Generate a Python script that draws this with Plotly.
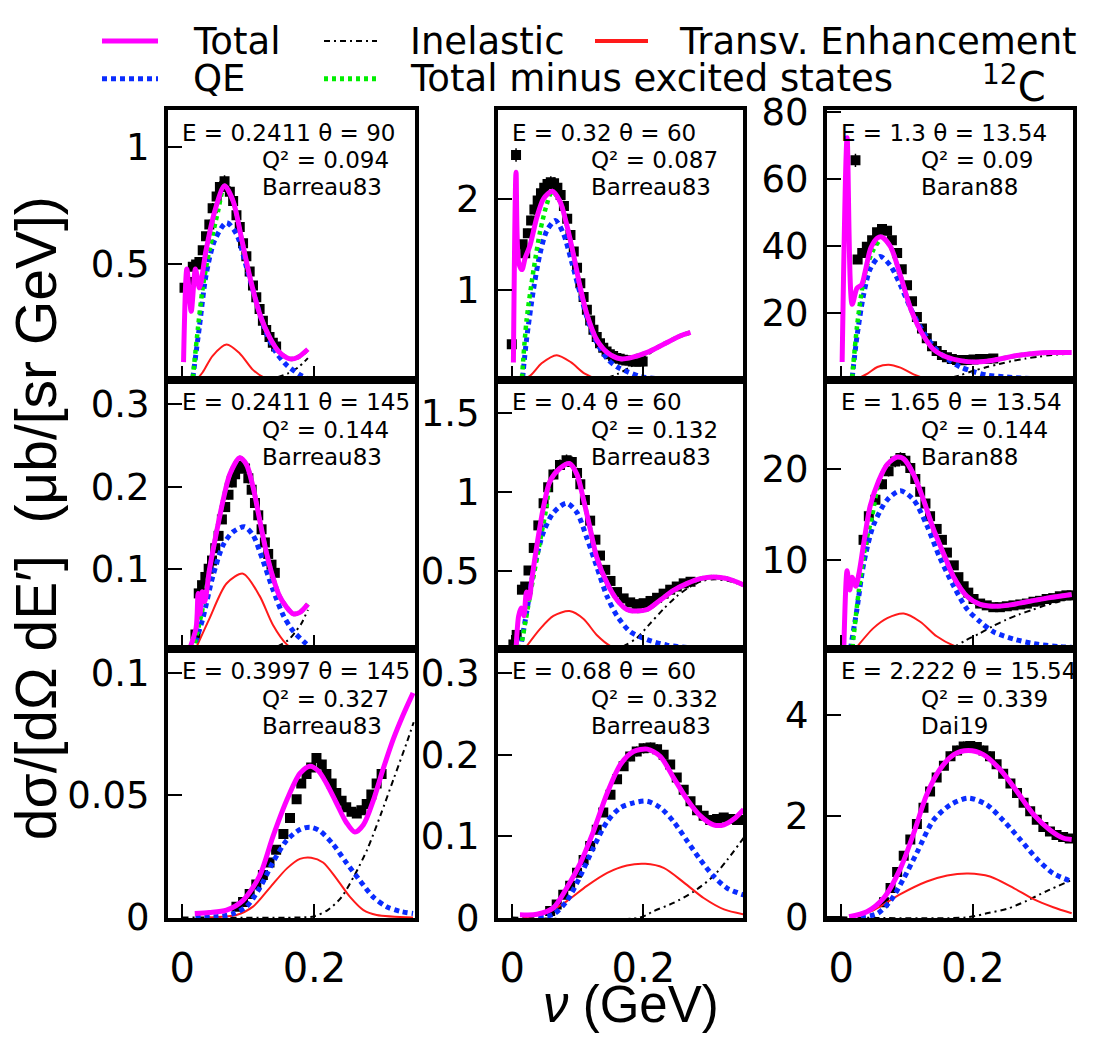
import plotly.graph_objects as go
from plotly.subplots import make_subplots

W, H = 1105, 1050

# ---------------- panel kinematics (row-major) ----------------
BEAM_E = ["0.2411", "0.32", "1.3", "0.2411", "0.4", "1.65", "0.3997", "0.68", "2.222"]
THETA = ["90", "60", "13.54", "145", "60", "13.54", "145", "60", "15.54"]
Q2 = ["0.094", "0.087", "0.09", "0.144", "0.132", "0.144", "0.327", "0.332", "0.339"]
DATASET = ["Barreau83", "Barreau83", "Baran88", "Barreau83", "Barreau83", "Baran88",
           "Barreau83", "Barreau83", "Dai19"]

X_RANGE = [-0.0215, 0.352]
X_TICKS = [0, 0.2]
Y_RANGES = [[0.008, 1.157], [0.01, 2.97], [0.2, 80.6],
            [0.0023, 0.330], [0.011, 1.708], [0.2, 29.8],
            [-0.0004, 0.110], [-0.001, 0.330], [-0.02, 5.31]]
Y_TICKS = [[0.5, 1], [1, 2], [20, 40, 60, 80],
           [0.1, 0.2, 0.3], [0.5, 1, 1.5], [10, 20],
           [0, 0.05, 0.1], [0, 0.1, 0.2, 0.3], [0, 2, 4]]

# ---------------- panel 1: E=0.2411, theta=90 ----------------
DATA_1 = [(0.0035, 0.40), (0.011, 0.425), (0.016, 0.49), (0.021, 0.50), (0.026, 0.51),
          (0.031, 0.56), (0.036, 0.62), (0.041, 0.67), (0.046, 0.74), (0.052, 0.79),
          (0.057, 0.83), (0.064, 0.855), (0.072, 0.81), (0.077, 0.77), (0.082, 0.71),
          (0.087, 0.66), (0.092, 0.59), (0.097, 0.535), (0.102, 0.47), (0.107, 0.41),
          (0.112, 0.36), (0.117, 0.31), (0.122, 0.26), (0.127, 0.22), (0.132, 0.19),
          (0.137, 0.166), (0.142, 0.15)]
TOTAL_1 = [(0.002, 0.083), (0.007, 0.48), (0.0136, 0.30), (0.020, 0.48), (0.026, 0.40),
           (0.036, 0.56), (0.049, 0.725), (0.064, 0.835), (0.077, 0.77), (0.089, 0.62),
           (0.102, 0.45), (0.117, 0.29), (0.132, 0.19), (0.147, 0.125), (0.163, 0.097),
           (0.175, 0.104), (0.190, 0.138)]
QE_1 = [(0.016, 0.015), (0.026, 0.234), (0.036, 0.454), (0.049, 0.602), (0.067, 0.678),
        (0.082, 0.63), (0.097, 0.49), (0.112, 0.34), (0.127, 0.208), (0.142, 0.124),
        (0.158, 0.07), (0.178, 0.029), (0.190, 0.012)]
NOEXC_1 = [(0.016, 0.015), (0.024, 0.234), (0.031, 0.40), (0.041, 0.56), (0.054, 0.725),
           (0.064, 0.835), (0.077, 0.77), (0.089, 0.62), (0.102, 0.45), (0.117, 0.29),
           (0.132, 0.19), (0.147, 0.125), (0.163, 0.097), (0.175, 0.104), (0.190, 0.138)]
TE_1 = [(0.019, 0.0), (0.031, 0.04), (0.046, 0.11), (0.067, 0.158), (0.087, 0.12),
        (0.107, 0.05), (0.127, 0.012), (0.147, 0.0), (0.190, 0.0)]
INEL_1 = [(0.0, 0.0), (0.10, 0.0), (0.12, 0.004), (0.14, 0.015), (0.16, 0.035),
          (0.175, 0.06), (0.190, 0.10)]

# ---------------- panel 2: E=0.32, theta=60 ----------------
DATA_2 = [(-0.0005, 0.40), (0.006, 2.48), (0.016, 1.50), (0.020, 1.40), (0.024, 1.62),
          (0.029, 1.76), (0.034, 1.88), (0.039, 1.98), (0.044, 2.06), (0.049, 2.12),
          (0.054, 2.16), (0.059, 2.18), (0.064, 2.17), (0.069, 2.12), (0.074, 2.04),
          (0.079, 1.92), (0.084, 1.78), (0.089, 1.60), (0.094, 1.42), (0.099, 1.24),
          (0.104, 1.07), (0.109, 0.92), (0.114, 0.78), (0.119, 0.66), (0.124, 0.56),
          (0.129, 0.48), (0.134, 0.41), (0.139, 0.36), (0.144, 0.32), (0.149, 0.29),
          (0.154, 0.27), (0.159, 0.25), (0.164, 0.24), (0.169, 0.23), (0.174, 0.22),
          (0.179, 0.22), (0.184, 0.21), (0.189, 0.21), (0.194, 0.21), (0.199, 0.21)]
TOTAL_2 = [(0.002, 0.20), (0.006, 2.29), (0.010, 1.30), (0.015, 1.22), (0.020, 1.35),
           (0.027, 1.48), (0.038, 1.80), (0.048, 2.0), (0.061, 2.08), (0.073, 1.97),
           (0.083, 1.72), (0.094, 1.37), (0.104, 1.02), (0.114, 0.73), (0.129, 0.45),
           (0.145, 0.31), (0.165, 0.24), (0.180, 0.25), (0.206, 0.31), (0.231, 0.40),
           (0.256, 0.49), (0.272, 0.53)]
QE_2 = [(0.016, 0.03), (0.022, 0.45), (0.033, 1.02), (0.043, 1.41), (0.053, 1.65),
        (0.066, 1.76), (0.078, 1.62), (0.091, 1.30), (0.104, 0.95), (0.117, 0.63),
        (0.129, 0.42), (0.145, 0.24), (0.160, 0.15), (0.175, 0.10), (0.195, 0.046),
        (0.221, 0.02), (0.241, 0.01), (0.272, 0.004)]
NOEXC_2 = [(0.015, 0.03), (0.022, 0.66), (0.033, 1.23), (0.043, 1.65), (0.053, 1.94),
           (0.061, 2.08), (0.073, 1.97), (0.083, 1.72), (0.094, 1.37), (0.104, 1.02),
           (0.114, 0.73), (0.129, 0.45), (0.145, 0.31), (0.165, 0.24), (0.180, 0.25),
           (0.206, 0.31), (0.231, 0.40), (0.256, 0.49), (0.272, 0.53)]
TE_2 = [(0.017, 0.0), (0.030, 0.07), (0.045, 0.19), (0.068, 0.28), (0.090, 0.20),
        (0.110, 0.08), (0.130, 0.02), (0.150, 0.0), (0.272, 0.0)]
INEL_2 = [(0.0, 0.0), (0.12, 0.0), (0.14, 0.02), (0.16, 0.07), (0.18, 0.15), (0.20, 0.25),
          (0.22, 0.35), (0.24, 0.44), (0.26, 0.49), (0.272, 0.52)]

# ---------------- panel 3: E=1.3, theta=13.54 ----------------
DATA_3 = [(0.0217, 65.7), (0.025, 36.1), (0.032, 38.0), (0.039, 39.9), (0.047, 41.8),
          (0.0545, 44.2), (0.062, 45.2), (0.0697, 44.7), (0.077, 41.8), (0.085, 38.0),
          (0.092, 33.2), (0.100, 28.4), (0.1076, 23.6), (0.115, 18.9), (0.1227, 15.5),
          (0.130, 12.6), (0.138, 10.2), (0.145, 8.8), (0.153, 7.6), (0.1606, 6.9),
          (0.168, 6.4), (0.176, 6.1), (0.183, 6.0), (0.191, 6.1), (0.201, 6.2),
          (0.211, 6.4), (0.221, 6.4), (0.231, 6.5)]
TOTAL_3 = [(0.0015, 5.5), (0.009, 72.4), (0.0167, 22.7), (0.024, 27.5), (0.031, 28.5),
           (0.037, 33.0), (0.045, 39.5), (0.055, 42.5), (0.062, 42.8), (0.075, 39.9),
           (0.090, 31.3), (0.105, 21.7), (0.120, 15.0), (0.140, 9.3), (0.161, 6.9),
           (0.181, 5.9), (0.201, 5.5), (0.221, 5.7), (0.241, 6.4), (0.267, 7.4),
           (0.292, 8.0), (0.317, 8.3), (0.350, 8.3)]
QE_3 = [(0.0167, 0.7), (0.024, 13.1), (0.034, 25.5), (0.044, 33.2), (0.059, 37.0),
        (0.075, 34.2), (0.090, 28.4), (0.105, 21.7), (0.120, 16.0), (0.140, 10.2),
        (0.161, 6.4), (0.181, 4.0), (0.201, 2.6), (0.221, 1.6), (0.251, 1.0),
        (0.292, 0.5), (0.350, 0.3)]
NOEXC_3 = [(0.0167, 0.7), (0.024, 16.0), (0.032, 27.5), (0.039, 34.0), (0.049, 39.0),
           (0.057, 41.5), (0.062, 42.8), (0.075, 39.9), (0.090, 31.3), (0.105, 21.7),
           (0.120, 15.0), (0.140, 9.3), (0.161, 6.9), (0.181, 5.9), (0.201, 5.5),
           (0.221, 5.7), (0.241, 6.4), (0.267, 7.4), (0.292, 8.0), (0.317, 8.3),
           (0.350, 8.3)]
TE_3 = [(0.02, 0.0), (0.04, 2.0), (0.055, 4.0), (0.072, 4.7), (0.09, 3.8), (0.11, 1.8),
        (0.13, 0.5), (0.15, 0.0), (0.35, 0.0)]
INEL_3 = [(0.0, 0.0), (0.14, 0.0), (0.16, 0.5), (0.18, 1.5), (0.20, 2.8), (0.22, 3.9),
          (0.24, 4.9), (0.26, 5.8), (0.28, 6.5), (0.30, 7.1), (0.32, 7.6), (0.35, 8.0)]

# ---------------- panel 4: E=0.2411, theta=145 ----------------
DATA_4 = [(0.020, 0.02), (0.025, 0.07), (0.030, 0.08), (0.035, 0.09), (0.040, 0.10),
          (0.045, 0.11), (0.050, 0.125), (0.055, 0.14), (0.060, 0.16), (0.065, 0.175),
          (0.070, 0.19), (0.075, 0.205), (0.080, 0.215), (0.085, 0.222), (0.090, 0.225),
          (0.095, 0.222), (0.100, 0.21), (0.105, 0.196), (0.110, 0.18), (0.115, 0.165),
          (0.120, 0.148), (0.125, 0.132), (0.130, 0.118), (0.135, 0.105), (0.140, 0.095)]
TOTAL_4 = [(0.011, 0.002), (0.021, 0.028), (0.024, 0.07), (0.027, 0.045), (0.030, 0.072),
           (0.034, 0.06), (0.041, 0.098), (0.052, 0.145), (0.062, 0.184), (0.072, 0.215),
           (0.087, 0.235), (0.097, 0.227), (0.107, 0.20), (0.117, 0.16), (0.127, 0.121),
           (0.137, 0.09), (0.147, 0.067), (0.158, 0.053), (0.168, 0.045), (0.178, 0.047),
           (0.190, 0.057)]
QE_4 = [(0.016, 0.0), (0.031, 0.039), (0.046, 0.09), (0.062, 0.129), (0.077, 0.145),
        (0.094, 0.151), (0.107, 0.141), (0.122, 0.11), (0.137, 0.075), (0.153, 0.043),
        (0.168, 0.024), (0.183, 0.012), (0.190, 0.007)]
NOEXC_4 = [(0.016, 0.0), (0.025, 0.03), (0.035, 0.068), (0.041, 0.098), (0.052, 0.145),
           (0.062, 0.184), (0.072, 0.215), (0.087, 0.235), (0.097, 0.227), (0.107, 0.20),
           (0.117, 0.16), (0.127, 0.121), (0.137, 0.09), (0.147, 0.067), (0.158, 0.053),
           (0.168, 0.045), (0.178, 0.047), (0.190, 0.057)]
TE_4 = [(0.019, 0.0), (0.041, 0.039), (0.067, 0.082), (0.092, 0.094), (0.117, 0.067),
        (0.137, 0.032), (0.158, 0.008), (0.173, 0.0), (0.190, 0.0)]
INEL_4 = [(0.0, 0.0), (0.12, 0.0), (0.14, 0.004), (0.16, 0.013), (0.17, 0.022),
          (0.18, 0.033), (0.19, 0.05)]

# ---------------- panel 5: E=0.4, theta=60 ----------------
DATA_5 = [(0.002, 0.04), (0.007, 0.10), (0.015, 0.385), (0.020, 0.405), (0.025, 0.506),
          (0.033, 0.648), (0.040, 0.79), (0.048, 0.93), (0.055, 1.03), (0.063, 1.11),
          (0.073, 1.17), (0.083, 1.20), (0.091, 1.19), (0.099, 1.12), (0.104, 1.05),
          (0.111, 0.95), (0.119, 0.82), (0.127, 0.70), (0.134, 0.60), (0.142, 0.51),
          (0.150, 0.44), (0.160, 0.37), (0.170, 0.33), (0.180, 0.305), (0.190, 0.294),
          (0.2005, 0.30), (0.211, 0.314), (0.221, 0.334), (0.231, 0.36), (0.241, 0.385),
          (0.251, 0.405), (0.2616, 0.425), (0.272, 0.435)]
TOTAL_5 = [(0.006, 0.01), (0.010, 0.22), (0.014, 0.27), (0.018, 0.22), (0.022, 0.37),
           (0.026, 0.33), (0.030, 0.45), (0.038, 0.67), (0.048, 0.91), (0.058, 1.07),
           (0.073, 1.15), (0.0875, 1.18), (0.099, 1.11), (0.109, 0.95), (0.119, 0.77),
           (0.129, 0.59), (0.145, 0.425), (0.160, 0.32), (0.175, 0.26), (0.190, 0.25),
           (0.206, 0.26), (0.226, 0.32), (0.246, 0.38), (0.267, 0.425), (0.287, 0.455),
           (0.307, 0.465), (0.328, 0.455), (0.353, 0.415)]
QE_5 = [(0.012, 0.0), (0.022, 0.24), (0.033, 0.51), (0.048, 0.75), (0.063, 0.87),
        (0.083, 0.93), (0.099, 0.87), (0.114, 0.71), (0.129, 0.53), (0.145, 0.34),
        (0.160, 0.22), (0.180, 0.12), (0.206, 0.07), (0.236, 0.036), (0.267, 0.02),
        (0.297, 0.012), (0.353, 0.005)]
NOEXC_5 = [(0.013, 0.01), (0.027, 0.34), (0.043, 0.70), (0.053, 0.92), (0.058, 1.07),
           (0.073, 1.15), (0.0875, 1.18), (0.099, 1.11), (0.109, 0.95), (0.119, 0.77),
           (0.129, 0.59), (0.145, 0.425), (0.160, 0.32), (0.175, 0.26), (0.190, 0.25),
           (0.206, 0.26), (0.226, 0.32), (0.246, 0.38), (0.267, 0.425), (0.287, 0.455),
           (0.307, 0.465), (0.328, 0.455), (0.353, 0.415)]
TE_5 = [(0.017, 0.0), (0.043, 0.14), (0.063, 0.22), (0.0875, 0.25), (0.109, 0.20),
        (0.129, 0.10), (0.150, 0.03), (0.170, 0.0), (0.353, 0.0)]
INEL_5 = [(0.0, 0.0), (0.15, 0.0), (0.17, 0.03), (0.19, 0.08), (0.21, 0.17), (0.23, 0.26),
          (0.25, 0.34), (0.27, 0.40), (0.29, 0.44), (0.31, 0.45), (0.33, 0.44),
          (0.353, 0.41)]

# ---------------- panel 6: E=1.65, theta=13.54 ----------------
DATA_6 = [(0.034, 12.2), (0.042, 14.8), (0.052, 16.6), (0.062, 18.3), (0.072, 19.75),
          (0.082, 20.8), (0.090, 21.2), (0.0975, 20.9), (0.105, 20.1), (0.1126, 18.9),
          (0.120, 17.5), (0.128, 16.2), (0.135, 14.8), (0.145, 13.4), (0.153, 12.2),
          (0.1606, 10.8), (0.171, 9.4), (0.178, 8.1), (0.186, 7.1), (0.193, 6.4),
          (0.201, 5.7), (0.211, 5.2), (0.221, 5.0), (0.231, 4.8), (0.241, 4.8),
          (0.2515, 4.9), (0.2616, 5.0), (0.272, 5.1), (0.282, 5.2), (0.292, 5.4),
          (0.302, 5.5), (0.312, 5.7), (0.322, 5.8), (0.332, 6.0), (0.342, 6.1),
          (0.350, 6.1)]
TOTAL_6 = [(0.004, 0.2), (0.009, 8.8), (0.013, 6.7), (0.0167, 8.1), (0.022, 7.1),
           (0.027, 8.5), (0.034, 11.7), (0.044, 15.9), (0.057, 18.7), (0.070, 20.5),
           (0.085, 21.3), (0.095, 21.1), (0.110, 19.4), (0.125, 16.6), (0.140, 13.4),
           (0.156, 10.6), (0.171, 8.1), (0.191, 6.0), (0.211, 5.1), (0.231, 4.9),
           (0.252, 5.0), (0.282, 5.4), (0.312, 5.8), (0.350, 6.2)]
QE_6 = [(0.014, 0.2), (0.024, 4.6), (0.034, 9.5), (0.049, 13.8), (0.070, 16.6),
        (0.090, 17.6), (0.110, 16.6), (0.130, 13.8), (0.150, 10.2), (0.171, 7.1),
        (0.191, 4.6), (0.211, 3.2), (0.231, 2.1), (0.262, 1.3), (0.292, 0.8),
        (0.332, 0.46), (0.350, 0.4)]
NOEXC_6 = [(0.017, 0.3), (0.027, 6.7), (0.037, 11.7), (0.047, 14.8), (0.057, 18.5),
           (0.070, 20.5), (0.085, 21.3), (0.095, 21.1), (0.110, 19.4), (0.125, 16.6),
           (0.140, 13.4), (0.156, 10.6), (0.171, 8.1), (0.191, 6.0), (0.211, 5.1),
           (0.231, 4.9), (0.252, 5.0), (0.282, 5.4), (0.312, 5.8), (0.350, 6.2)]
TE_6 = [(0.019, 0.0), (0.049, 2.5), (0.070, 3.6), (0.095, 4.1), (0.120, 3.2),
        (0.145, 1.6), (0.171, 0.56), (0.196, 0.0), (0.350, 0.0)]
INEL_6 = [(0.0, 0.0), (0.15, 0.0), (0.17, 0.4), (0.19, 1.2), (0.21, 1.9), (0.23, 2.7),
          (0.25, 3.4), (0.27, 4.0), (0.29, 4.5), (0.31, 5.0), (0.33, 5.4), (0.35, 5.8)]

# ---------------- panel 7: E=0.3997, theta=145 ----------------
DATA_7 = [(0.082, 0.0044), (0.092, 0.0063), (0.102, 0.0096), (0.112, 0.0135),
          (0.122, 0.0174), (0.132, 0.0225), (0.142, 0.0277), (0.153, 0.0342),
          (0.163, 0.0407), (0.173, 0.0484), (0.180, 0.0549), (0.188, 0.0588),
          (0.195, 0.0614), (0.203, 0.0653), (0.211, 0.0627), (0.218, 0.0588),
          (0.226, 0.0549), (0.233, 0.051), (0.241, 0.0478), (0.248, 0.0452),
          (0.256, 0.0433), (0.264, 0.0426), (0.271, 0.0439), (0.279, 0.0465),
          (0.286, 0.0504), (0.294, 0.0549), (0.3015, 0.0588)]
TOTAL_7 = [(0.019, 0.0016), (0.041, 0.002), (0.067, 0.003), (0.092, 0.007), (0.117, 0.017),
           (0.137, 0.033), (0.158, 0.048), (0.178, 0.059), (0.193, 0.062), (0.206, 0.060),
           (0.218, 0.055), (0.233, 0.047), (0.248, 0.039), (0.261, 0.035), (0.274, 0.038),
           (0.289, 0.048), (0.304, 0.061), (0.319, 0.073), (0.334, 0.083), (0.349, 0.092)]
QE_7 = [(0.020, 0.0), (0.060, 0.0005), (0.077, 0.0015), (0.097, 0.0044), (0.117, 0.012),
        (0.137, 0.0225), (0.158, 0.0316), (0.178, 0.036), (0.193, 0.037), (0.208, 0.0355),
        (0.228, 0.030), (0.248, 0.0225), (0.269, 0.015), (0.289, 0.0083), (0.309, 0.0044),
        (0.329, 0.0025), (0.349, 0.0016)]
TE_7 = [(0.040, 0.0), (0.082, 0.001), (0.107, 0.0044), (0.132, 0.012), (0.158, 0.020),
        (0.178, 0.024), (0.195, 0.0245), (0.213, 0.0225), (0.233, 0.016), (0.254, 0.0083),
        (0.274, 0.003), (0.294, 0.001), (0.349, 0.0)]
INEL_7 = [(0.0, 0.0), (0.18, 0.0), (0.20, 0.0005), (0.22, 0.003), (0.24, 0.008),
          (0.26, 0.017), (0.28, 0.028), (0.30, 0.042), (0.32, 0.057), (0.34, 0.072),
          (0.35, 0.080)]

# ---------------- panel 8: E=0.68, theta=60 ----------------
DATA_8 = [(0.058, 0.008), (0.068, 0.016), (0.078, 0.028), (0.0885, 0.039), (0.099, 0.055),
          (0.109, 0.0707), (0.119, 0.088), (0.129, 0.108), (0.139, 0.129), (0.150, 0.151),
          (0.160, 0.170), (0.170, 0.186), (0.180, 0.198), (0.190, 0.204), (0.2005, 0.208),
          (0.211, 0.209), (0.221, 0.207), (0.231, 0.200), (0.241, 0.188), (0.251, 0.172),
          (0.2616, 0.157), (0.272, 0.143), (0.282, 0.132), (0.292, 0.125), (0.302, 0.120),
          (0.3125, 0.121), (0.3226, 0.123), (0.333, 0.121), (0.343, 0.120), (0.353, 0.120)]
TOTAL_8 = [(0.012, 0.0035), (0.038, 0.004), (0.063, 0.012), (0.083, 0.036), (0.104, 0.067),
           (0.124, 0.106), (0.145, 0.153), (0.165, 0.188), (0.185, 0.204), (0.206, 0.207),
           (0.226, 0.198), (0.246, 0.172), (0.267, 0.145), (0.287, 0.125), (0.307, 0.114),
           (0.323, 0.114), (0.338, 0.121), (0.353, 0.133)]
QE_8 = [(0.040, 0.0), (0.063, 0.004), (0.083, 0.020), (0.104, 0.051), (0.124, 0.086),
        (0.145, 0.118), (0.165, 0.135), (0.185, 0.141), (0.206, 0.143), (0.226, 0.135),
        (0.246, 0.118), (0.267, 0.094), (0.287, 0.071), (0.307, 0.051), (0.328, 0.036),
        (0.353, 0.028)]
TE_8 = [(0.017, 0.0), (0.053, 0.006), (0.083, 0.020), (0.114, 0.039), (0.145, 0.055),
        (0.175, 0.064), (0.203, 0.066), (0.231, 0.061), (0.262, 0.043), (0.292, 0.024),
        (0.323, 0.010), (0.353, 0.004)]
INEL_8 = [(0.0, 0.0), (0.195, 0.0), (0.216, 0.008), (0.246, 0.018), (0.277, 0.032),
          (0.307, 0.051), (0.328, 0.071), (0.353, 0.098)]

# ---------------- panel 9: E=2.222, theta=15.54 ----------------
DATA_9 = [(0.065, 0.30), (0.075, 0.58), (0.085, 0.90), (0.095, 1.22), (0.105, 1.54),
          (0.115, 1.85), (0.125, 2.17), (0.135, 2.49), (0.145, 2.77), (0.156, 3.00),
          (0.166, 3.19), (0.176, 3.30), (0.186, 3.38), (0.196, 3.39), (0.206, 3.37),
          (0.216, 3.30), (0.226, 3.19), (0.236, 3.03), (0.246, 2.84), (0.257, 2.65),
          (0.267, 2.46), (0.277, 2.27), (0.287, 2.10), (0.297, 1.93), (0.307, 1.79),
          (0.317, 1.70), (0.327, 1.63), (0.337, 1.59), (0.347, 1.56)]
TOTAL_9 = [(0.012, 0.013), (0.039, 0.11), (0.065, 0.39), (0.090, 0.97), (0.110, 1.66),
           (0.130, 2.43), (0.150, 2.93), (0.171, 3.22), (0.193, 3.30), (0.216, 3.22),
           (0.241, 2.93), (0.267, 2.49), (0.292, 2.04), (0.317, 1.73), (0.337, 1.57),
           (0.350, 1.54)]
QE_9 = [(0.030, 0.0), (0.055, 0.076), (0.075, 0.33), (0.095, 0.77), (0.115, 1.28),
        (0.140, 1.92), (0.166, 2.23), (0.193, 2.36), (0.221, 2.23), (0.246, 1.92),
        (0.272, 1.54), (0.297, 1.16), (0.322, 0.87), (0.350, 0.71)]
TE_9 = [(0.014, 0.0), (0.049, 0.14), (0.090, 0.46), (0.130, 0.71), (0.161, 0.83),
        (0.193, 0.87), (0.226, 0.81), (0.262, 0.58), (0.292, 0.36), (0.322, 0.20),
        (0.350, 0.08)]
INEL_9 = [(0.0, 0.0), (0.191, 0.0), (0.221, 0.08), (0.252, 0.17), (0.282, 0.33),
          (0.312, 0.52), (0.350, 0.74)]

PANELS = [
    (DATA_1, TOTAL_1, QE_1, NOEXC_1, TE_1, INEL_1),
    (DATA_2, TOTAL_2, QE_2, NOEXC_2, TE_2, INEL_2),
    (DATA_3, TOTAL_3, QE_3, NOEXC_3, TE_3, INEL_3),
    (DATA_4, TOTAL_4, QE_4, NOEXC_4, TE_4, INEL_4),
    (DATA_5, TOTAL_5, QE_5, NOEXC_5, TE_5, INEL_5),
    (DATA_6, TOTAL_6, QE_6, NOEXC_6, TE_6, INEL_6),
    (DATA_7, TOTAL_7, QE_7, None, TE_7, INEL_7),
    (DATA_8, TOTAL_8, QE_8, None, TE_8, INEL_8),
    (DATA_9, TOTAL_9, QE_9, None, TE_9, INEL_9),
]

# ---------------- styling ----------------
MAGENTA, BLUE, GREEN, RED = "#ff00ff", "#0a2cff", "#00ee00", "#ff1a1a"
DASHDOT = "6px,4px,2px,4px"
TEXT_FONT = "DejaVu Sans"
TITLE_FONT = "Liberation Sans"

# pixel frames of the panels
COL_PX = [(168, 415), (498, 743), (827, 1073)]
ROW_PX = [(95, 375), (375, 655), (655, 935)]

fig = make_subplots(rows=3, cols=3)


def xy(points):
    return [p[0] for p in points], [p[1] for p in points]


for k, (data, total, qe, noexc, te, inel) in enumerate(PANELS):
    r, c = k // 3 + 1, k % 3 + 1
    x, y = xy(data)
    fig.add_trace(go.Scatter(
        x=x, y=y, mode="markers",
        marker=dict(symbol="square", size=10, color="black"),
        error_y=dict(type="percent", value=3, thickness=1.5, width=0, color="black"),
        showlegend=False, hoverinfo="skip"), row=r, col=c)
    x, y = xy(inel)
    fig.add_trace(go.Scatter(x=x, y=y, mode="lines", line=dict(color="black", width=2, dash=DASHDOT,
                             shape="spline", smoothing=0.8), showlegend=False), row=r, col=c)
    x, y = xy(te)
    fig.add_trace(go.Scatter(x=x, y=y, mode="lines", line=dict(color=RED, width=2,
                             shape="spline", smoothing=0.8), showlegend=False), row=r, col=c)
    x, y = xy(qe)
    fig.add_trace(go.Scatter(x=x, y=y, mode="lines", line=dict(color=BLUE, width=5, dash="5px,4px",
                             shape="spline", smoothing=0.8), showlegend=False), row=r, col=c)
    if noexc is not None:
        x, y = xy(noexc)
        fig.add_trace(go.Scatter(x=x, y=y, mode="lines", line=dict(color=GREEN, width=4.5, dash="4px,4px",
                                 shape="spline", smoothing=0.8), showlegend=False), row=r, col=c)
    x, y = xy(total)
    fig.add_trace(go.Scatter(x=x, y=y, mode="lines", line=dict(color=MAGENTA, width=5,
                             shape="spline", smoothing=0.8), showlegend=False), row=r, col=c)

    x0, x1 = COL_PX[c - 1]
    y0, y1 = ROW_PX[r - 1]
    fig.update_xaxes(domain=[x0 / W, x1 / W], range=X_RANGE, tickvals=X_TICKS,
                     showticklabels=(r == 3), ticks="inside", ticklen=14, tickwidth=1.5,
                     tickcolor="black", showline=True, linewidth=4, linecolor="black",
                     mirror=True, showgrid=False, zeroline=False, ticklabelstandoff=12,
                     tickfont=dict(family=TEXT_FONT, size=40, color="black"),
                     row=r, col=c)
    fig.update_yaxes(domain=[1 - y1 / H, 1 - y0 / H], range=Y_RANGES[k], tickvals=Y_TICKS[k],
                     ticks="inside", ticklen=14, tickwidth=1.5, tickcolor="black",
                     showline=True, linewidth=4, linecolor="black", mirror=True,
                     showgrid=False, zeroline=False, ticklabelstandoff=7,
                     tickfont=dict(family=TEXT_FONT, size=37, color="black"),
                     row=r, col=c)

    ax = "" if k == 0 else str(k + 1)
    common = dict(xref=f"x{ax} domain", yref=f"y{ax} domain", showarrow=False,
                  xanchor="left", yanchor="middle",
                  font=dict(family=TEXT_FONT, size=23, color="black"))
    fig.add_annotation(text=f"E = {BEAM_E[k]} θ = {THETA[k]}", x=12 / 247, y=1 - 23 / 280, **common)
    fig.add_annotation(text=f"Q² = {Q2[k]}", x=92 / 247, y=1 - 52 / 280, **common)
    fig.add_annotation(text=DATASET[k], x=92 / 247, y=1 - 80 / 280, **common)

# ---------------- legend drawn at the top ----------------
LEGEND_ROWS = [
    [("Total", MAGENTA, 5, "solid", 102, 158, 191), ("Inelastic", "black", 2, DASHDOT, 324, 377, 408),
     ("Transv. Enhancement", RED, 4, "solid", 595, 648, 677)],
    [("QE", BLUE, 5, "5px,4px", 102, 158, 191), ("Total minus excited states", GREEN, 5, "4px,4px", 324, 377, 408)],
]
LEGEND_Y = [23, 62]
for row, ly in zip(LEGEND_ROWS, LEGEND_Y):
    for label, color, lw, dash, lx0, lx1, tx in row:
        fig.add_shape(type="line", xref="paper", yref="paper",
                      x0=lx0 / W, x1=lx1 / W, y0=1 - ly / H, y1=1 - ly / H,
                      line=dict(color=color, width=lw, dash=dash))
        fig.add_annotation(text=label, xref="paper", yref="paper", x=tx / W, y=1 - ly / H,
                           xanchor="left", yanchor="middle", showarrow=False,
                           font=dict(family=TEXT_FONT, size=37, color="black"))

fig.add_annotation(text="<sup>12</sup>C", xref="paper", yref="paper", x=980 / W, y=1 - 68 / H,
                   xanchor="left", yanchor="middle", showarrow=False,
                   font=dict(family=TEXT_FONT, size=40, color="black"))

# axis titles
fig.add_annotation(text="dσ/[dΩ dE′]\u00a0\u00a0(μb/[sr GeV])", xref="paper", yref="paper",
                   x=36 / W, y=1 - 519 / H, textangle=-90, showarrow=False,
                   xanchor="center", yanchor="middle",
                   font=dict(family=TITLE_FONT, size=57, color="black"))
fig.add_annotation(text="<i>ν</i> (GeV)", xref="paper", yref="paper",
                   x=631 / W, y=1 - 1025 / H, showarrow=False,
                   xanchor="center", yanchor="middle",
                   font=dict(family=TITLE_FONT, size=51, color="black"))

fig.update_layout(width=W, height=H, margin=dict(l=0, r=0, t=0, b=0),
                  paper_bgcolor="white", plot_bgcolor="white", showlegend=False)

fig.write_html("out.html")
